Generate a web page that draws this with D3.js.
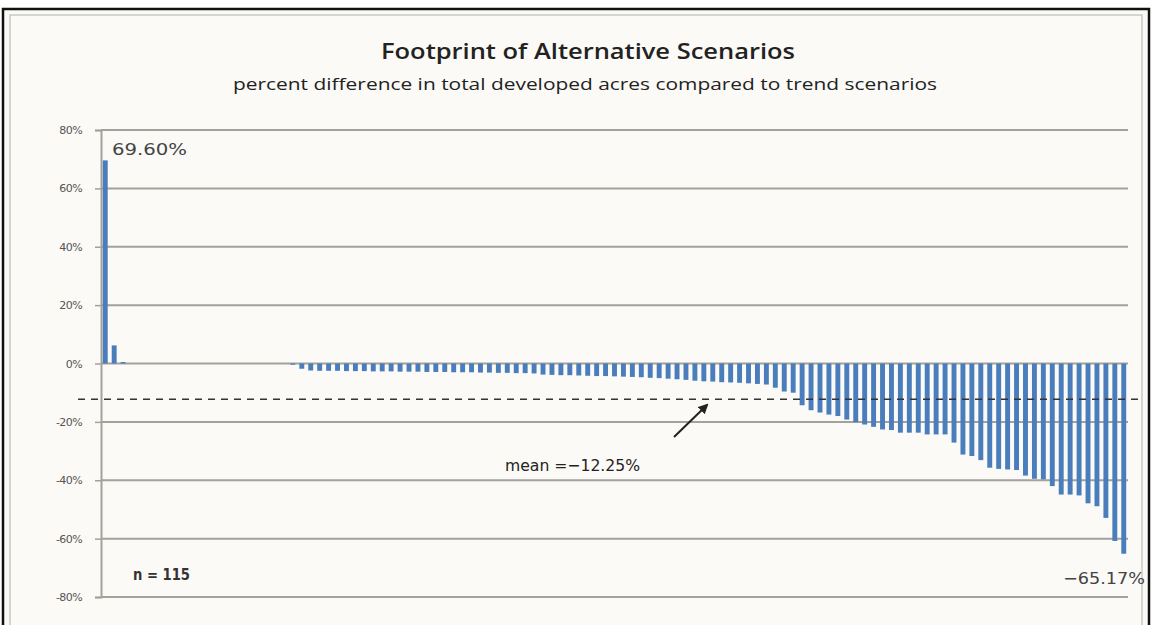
<!DOCTYPE html>
<html><head><meta charset="utf-8">
<script src="https://cdn.jsdelivr.net/npm/d3@7"></script>
<style>html,body{margin:0;padding:0;background:#fff;}svg{display:block;}</style>
</head><body>
<svg id="c" width="1151" height="625"></svg>
<script>
// ---- data ----
const title = "Footprint of Alternative Scenarios";
const subtitle = "percent difference in total developed  acres compared to trend scenarios";
const values = [
  69.6, 6.2, 0.5, 0, 0, 0, 0, 0, 0, 0, 0, 0, 0, 0, 0, 0, 0, 0, 0, 0, 0,
  -0.4, -1.8,
  -2.4, -2.5, -2.5, -2.5, -2.6, -2.6, -2.6, -2.7, -2.7, -2.7, -2.8, -2.8, -2.8,
  -2.9, -2.9, -2.9, -3.0, -3.0, -3.0, -3.1, -3.1, -3.2, -3.2, -3.3, -3.3, -3.4,
  -3.8, -3.9, -4.0, -4.0, -4.1, -4.2, -4.3, -4.3, -4.4, -4.5, -4.6, -4.7,
  -4.9, -5.0, -5.2, -5.4, -5.6, -5.9, -6.1, -6.2, -6.4, -6.5, -6.6, -6.8, -7.0,
  -7.2, -8.3, -9.6, -10.0, -14.3, -16.0, -16.8, -17.5, -18.0, -19.2,
  -20.1, -20.9, -21.7, -22.6, -22.8, -23.7, -23.7, -23.7, -24.3, -24.3,
  -24.3, -27.1, -31.2, -31.7, -33.1, -35.7, -36.1, -36.3, -36.5, -38.4,
  -39.5, -39.7, -42.0, -44.9, -44.9, -45.2, -47.9, -48.9, -52.9, -60.8,
  -65.17
];
const yTicks = [80, 60, 40, 20, 0, -20, -40, -60, -80];
const meanValue = -12.25;
const maxLabel = "69.60%";
const minLabel = "\u221265.17%";
const meanLabel = "mean =\u221212.25%";
const nLabel = "n = 115";

(function () {
const svg = d3.select("#c");
const W = 1151, H = 625;

// frame
svg.append("rect").attr("x",0).attr("y",0).attr("width",W).attr("height",H).attr("fill","#ffffff");
svg.append("rect").attr("x",3).attr("y",9).attr("width",1146).attr("height",640)
  .attr("fill","#fbfaf6").attr("stroke","#111").attr("stroke-width",2.5);
svg.append("rect").attr("x",10).attr("y",15).attr("width",1132).attr("height",630)
  .attr("fill","none").attr("stroke","#c8c8c8").attr("stroke-width",1.5);

const pl = 101, pr = 1128, pt = 130, pb = 597;
const x = d3.scaleBand().domain(d3.range(values.length)).range([pl, pr]).paddingInner(0.45).paddingOuter(0.2);
const y = d3.scaleLinear().domain([-80, 80]).range([pb, pt]);

// gridlines
svg.append("g").selectAll("line").data(yTicks).join("line")
  .attr("x1", pl).attr("x2", pr)
  .attr("y1", d => y(d)).attr("y2", d => y(d))
  .attr("stroke", "#a3a19c").attr("stroke-width", 2);

// axis
const axis = d3.axisLeft(y).tickValues(yTicks).tickSize(6).tickPadding(13)
  .tickFormat(d => (d < 0 ? "-" : "") + Math.abs(d) + "%");
const ga = svg.append("g").attr("transform", `translate(${pl},0)`).call(axis);
ga.select(".domain").attr("stroke", "#a3a19c").attr("stroke-width", 2);
ga.selectAll(".tick line").attr("stroke", "#a3a19c").attr("stroke-width", 1.5);
ga.selectAll(".tick text").attr("fill", "#555").attr("font-family", "DejaVu Sans, sans-serif")
  .attr("font-size", 11).attr("letter-spacing", "-0.6px");

// bars
svg.append("g").selectAll("rect").data(values).join("rect")
  .attr("x", (d, i) => x(i))
  .attr("width", x.bandwidth())
  .attr("y", d => y(Math.max(0, d)))
  .attr("height", d => Math.abs(y(d) - y(0)))
  .attr("fill", "#4a7dbb");

// mean line
svg.append("line").attr("x1", 78).attr("x2", 1142)
  .attr("y1", y(meanValue)).attr("y2", y(meanValue))
  .attr("stroke", "#333").attr("stroke-width", 1.6).attr("stroke-dasharray", "7,6");

// arrow
svg.append("defs").append("marker").attr("id", "ah").attr("viewBox", "0 0 10 10")
  .attr("refX", 8).attr("refY", 5).attr("markerWidth", 5).attr("markerHeight", 5).attr("orient", "auto")
  .append("path").attr("d", "M0,0 L10,5 L0,10 z").attr("fill", "#222");
svg.append("line").attr("x1", 674).attr("y1", 437).attr("x2", 707).attr("y2", 405)
  .attr("stroke", "#222").attr("stroke-width", 2).attr("marker-end", "url(#ah)");

// texts
const ff = "Open Sans, Liberation Sans, sans-serif";
const fv = "DejaVu Sans, Verdana, sans-serif";
svg.append("text").attr("x", 588).attr("y", 59).attr("text-anchor", "middle")
  .attr("font-family", ff).attr("font-size", 22).attr("font-weight", 600).attr("fill", "#222")
  .attr("textLength", 414).attr("lengthAdjust", "spacingAndGlyphs").text(title);
svg.append("text").attr("x", 585).attr("y", 90).attr("text-anchor", "middle")
  .attr("font-family", ff).attr("font-size", 17).attr("fill", "#222")
  .attr("textLength", 704).attr("lengthAdjust", "spacingAndGlyphs").text(subtitle);
svg.append("text").attr("x", 112).attr("y", 155).attr("font-family", fv).attr("font-size", 16)
  .attr("fill", "#444").attr("textLength", 75).attr("lengthAdjust", "spacingAndGlyphs").text(maxLabel);
svg.append("text").attr("x", 1145).attr("y", 584).attr("text-anchor", "end").attr("font-family", fv)
  .attr("font-size", 16).attr("fill", "#444").attr("textLength", 82).attr("lengthAdjust", "spacingAndGlyphs").text(minLabel);
svg.append("text").attr("x", 505).attr("y", 471).attr("font-family", fv).attr("font-size", 16)
  .attr("fill", "#222").attr("textLength", 135).attr("lengthAdjust", "spacingAndGlyphs").text(meanLabel);
svg.append("text").attr("x", 133).attr("y", 580).attr("font-family", fv).attr("font-size", 15)
  .attr("font-weight", "bold").attr("fill", "#333").attr("textLength", 57).attr("lengthAdjust", "spacingAndGlyphs").text(nLabel);
})();
</script>
</body></html>
